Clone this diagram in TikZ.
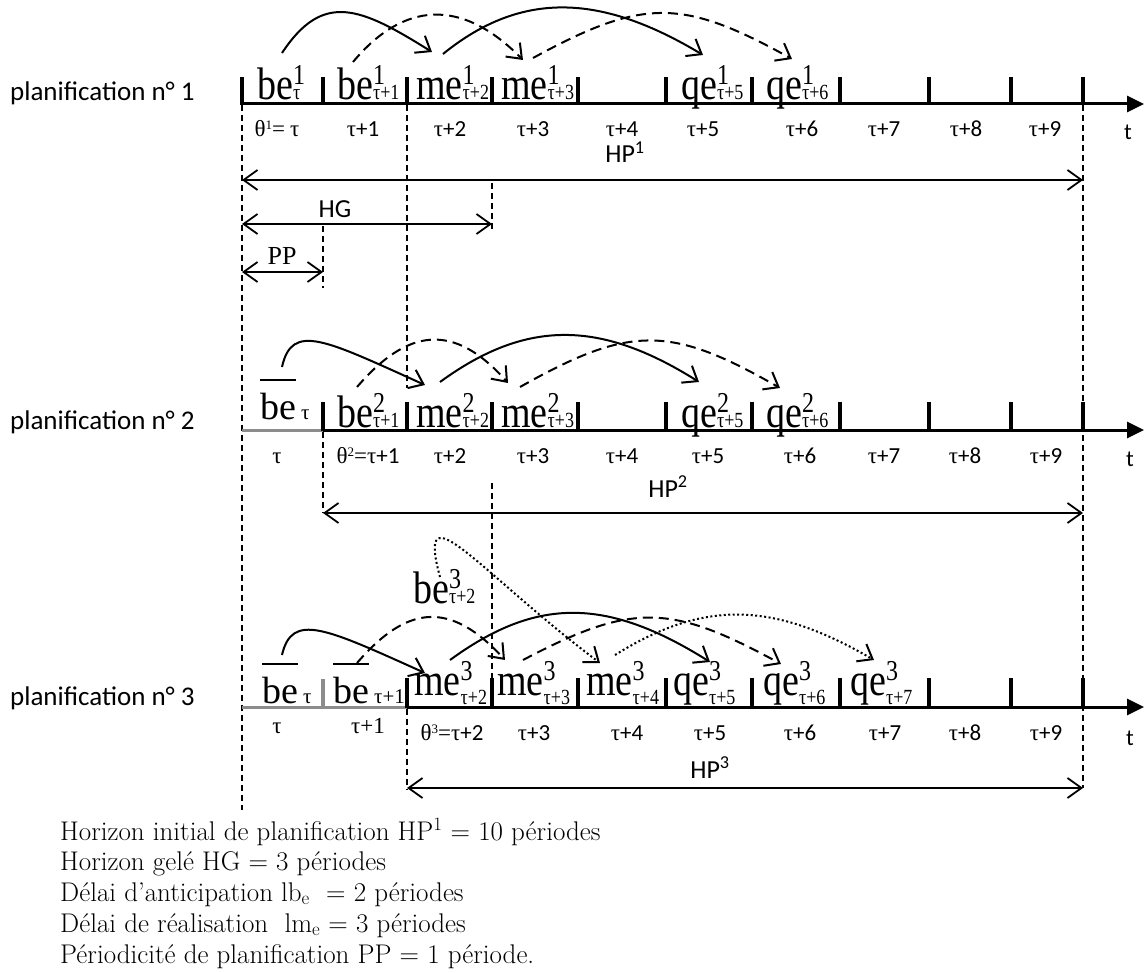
\documentclass[tikz,border=0pt]{standalone}
\usepackage{fontspec}
\usepackage{graphicx}
\newfontfamily\tms{Liberation Serif}
\newfontfamily\calib{Carlito}
\usetikzlibrary{arrows.meta}
\definecolor{gelgrey}{HTML}{8C8C8C}

\newcommand{\ta}{{\tms τ}}
% cell label: base, superscript, subscript (optional drop of the subscript)
\newcommand{\cel}[4][0]{\scalebox{1}[1.2]{#2\rlap{\raisebox{12.5pt}{\fontsize{24}{24}\selectfont #3}}\raisebox{-#1pt}{\fontsize{18}{18}\selectfont #4}}}
% frozen cell: overlined be
\newcommand{\bcel}[1]{\setbox0\hbox{be}\rlap{\raisebox{38pt}{\rule{\wd0}{1.6pt}}}\box0\hspace{5pt}{\fontsize{21}{21}\selectfont #1}}
\newcommand{\thet}[1]{{\tms θ\raisebox{7pt}{\fontsize{13}{13}\selectfont #1}=}}

\begin{document}
\begin{tikzpicture}[x=1pt, y=-1pt,
    every node/.style={inner sep=0pt},
    cell/.style={anchor=base west, font=\tms\fontsize{38}{38}\selectfont},
    per/.style={anchor=base, font=\calib\fontsize{23}{23}\selectfont},
    rowlab/.style={anchor=base west, font=\calib\fontsize{27}{27}\selectfont},
    dimlab/.style={anchor=base, font=\calib\fontsize{26}{26}\selectfont},
    legend/.style={anchor=base west, font=\rmfamily\fontsize{27}{27}\selectfont},
    axis/.style={line width=3pt, -{Triangle[length=17pt,width=16pt]}},
    gel/.style={line width=3pt, gelgrey},
    tick/.style={line width=3.5pt},
    guide/.style={line width=1.2pt, dash pattern=on 6pt off 4pt},
    dim/.style={line width=1.8pt, {Straight Barb[length=14pt,width=20pt]}-{Straight Barb[length=14pt,width=20pt]}},
    solarc/.style={line width=2pt, -{Straight Barb[length=13pt,width=20pt]}},
    dasharc/.style={solarc, dash pattern=on 10pt off 6pt},
    dotarc/.style={solarc, dash pattern=on 2pt off 2.5pt},
  ]
  \useasboundingbox (0,0) rectangle (1147,973);

  % guides
  \draw[guide] (242,105) -- (242,810);
  \draw[guide] (323,226) -- (323,288);
  \draw[guide] (323,432) -- (323,513);
  \draw[guide] (407,105) -- (407,388);
  \draw[guide] (407,709) -- (407,790);
  \draw[guide] (492,183) -- (492,232);
  \draw[guide] (492,483) -- (492,712);
  \draw[guide] (1083,105) -- (1083,788);

  % planification 1
  \node[rowlab] (pl1) at (10,101) {planification n° 1};
  \draw[axis] (242,104) -- (1144,104);
  \foreach \x in {242,323,407,492,578,666,752,840,929,1011,1083}
    \draw[tick] (\x,77) -- (\x,105);
  \node[cell] (b11) at (257,100) {\cel{be}{1}{τ}};
  \node[cell] (b12) at (337,100) {\cel{be}{1}{τ+1}};
  \node[cell] (m13) at (416,100) {\cel{me}{1}{τ+2}};
  \node[cell] (m14) at (501,100) {\cel{me}{1}{τ+3}};
  \node[cell] (q16) at (681,100) {\cel{qe}{1}{τ+5}};
  \node[cell] (q17) at (766,100) {\cel{qe}{1}{τ+6}};
  \node[per] (p10) at (277,137) {\thet{1} \ta};
  \foreach \x/\k in {363/1,450/2,533/3,622/4,703/5,802/6,884/7,966/8,1045/9}
    \node[per] (p1\k) at (\x,137) {\ta+\k};
  \node[per] (t1) at (1128,140) {t};
  \draw[solarc] ([shift={(25,-47)}]b11.base west) .. controls +(41,-62) and +(-72,-45) .. ([shift={(16,-48)}]m13.base west);
  \draw[dasharc] ([shift={(16,-38)}]b12.base west) .. controls +(50,-60) and +(-62,-63) .. ([shift={(22,-40)}]m14.base west);
  \draw[solarc] ([shift={(27,-46)}]m13.base west) .. controls +(80,-65) and +(-100,-60) .. ([shift={(22,-45)}]q16.base west);
  \draw[dasharc] ([shift={(32,-42)}]m14.base west) .. controls +(110,-60) and +(-110,-61) .. ([shift={(26,-41)}]q17.base west);
  \draw[dim] (242,180) -- (1083,180);
  \node[dimlab] (hp1) at (625,163) {HP\textsuperscript{1}};
  \draw[dim] (242,224) -- (492,224);
  \node[dimlab] (hg) at (335,218) {HG};
  \draw[dim] (242,272) -- (323,272);
  \node[dimlab, font=\tms\fontsize{26}{26}\selectfont] (pp) at (282,265) {PP};

  % planification 2
  \node[rowlab] (pl2) at (10,429) {planification n° 2};
  \draw[gel] (242,430) -- (323,430);
  \draw[axis] (323,430) -- (1144,430);
  \foreach \x in {323,407,492,578,666,752,840,929,1011,1083}
    \draw[tick] (\x,402) -- (\x,431);
  \node[cell] (bb21) at (260,419) {\bcel{τ}};
  \node[cell] (b22) at (337,427) {\cel{be}{2}{τ+1}};
  \node[cell] (m23) at (416,427) {\cel{me}{2}{τ+2}};
  \node[cell] (m24) at (501,427) {\cel{me}{2}{τ+3}};
  \node[cell] (q26) at (681,427) {\cel{qe}{2}{τ+5}};
  \node[cell] (q27) at (766,427) {\cel{qe}{2}{τ+6}};
  \node[per, font=\tms\fontsize{23}{23}\selectfont] (p20) at (277,463) {τ};
  \node[per] (p21) at (368,463) {\thet{2}\ta+1};
  \foreach \x/\k in {450/2,533/3,622/4,708/5,800/6,884/7,965/8,1046/9}
    \node[per] (p2\k) at (\x,463) {\ta+\k};
  \node[per] (t2) at (1130,466) {t};
  \draw[solarc] ([shift={(22,-52)}]bb21.base west) .. controls +(10,-45) and +(-100,-45) .. ([shift={(9,-42)}]m23.base west);
  \draw[dasharc] ([shift={(20,-40)}]b22.base west) .. controls +(50,-58) and +(-55,-62) .. ([shift={(7,-44)}]m24.base west);
  \draw[solarc] ([shift={(24,-45)}]m23.base west) .. controls +(85,-62) and +(-100,-63) .. ([shift={(18,-45)}]q26.base west);
  \draw[dasharc] ([shift={(19,-40)}]m24.base west) .. controls +(110,-62) and +(-110,-63) .. ([shift={(14,-39)}]q27.base west);
  \draw[dim] (323,513) -- (1083,513);
  \node[dimlab] (hp2) at (668,497) {HP\textsuperscript{2}};

  % planification 3
  \node[rowlab] (pl3) at (10,705) {planification n° 3};
  \draw[gel] (242,707) -- (407,707);
  \draw[gel, line width=3.5pt] (323,679) -- (323,708);
  \draw[axis] (407,707) -- (1144,707);
  \foreach \x in {407,492,578,666,752,840,929,1011,1083}
    \draw[tick] (\x,678) -- (\x,708);
  \node[cell] (bb31) at (262,703) {\bcel{τ}};
  \node[cell] (bb32) at (333,703) {\bcel{τ+1}};
  \node[cell] (m33) at (414,695) {\cel[8]{me}{3}{τ+2}};
  \node[cell] (m34) at (497,695) {\cel[8]{me}{3}{τ+3}};
  \node[cell] (m35) at (586,695) {\cel[8]{me}{3}{τ+4}};
  \node[cell] (q36) at (673,695) {\cel[8]{qe}{3}{τ+5}};
  \node[cell] (q37) at (763,695) {\cel[8]{qe}{3}{τ+6}};
  \node[cell] (q38) at (850,695) {\cel[8]{qe}{3}{τ+7}};
  \node[cell] (bf) at (413,603) {\cel{be}{3}{τ+2}};
  \node[per, font=\tms\fontsize{23}{23}\selectfont] (p30) at (277,733) {τ};
  \node[per, font=\tms\fontsize{23}{23}\selectfont] (p31) at (368,733) {τ+1};
  \node[per] (p32) at (452,740) {\thet{3}\ta+2};
  \foreach \x/\k in {534/3,627/4,710/5,800/6,885/7,965/8,1046/9}
    \node[per] (p3\k) at (\x,740) {\ta+\k};
  \node[per] (t3) at (1130,745) {t};
  \draw[solarc] ([shift={(20,-48)}]bb31.base west) .. controls +(10,-43) and +(-100,-45) .. ([shift={(11,-22)}]m33.base west);
  \draw[dasharc] ([shift={(24,-40)}]bb32.base west) .. controls +(50,-58) and +(-55,-60) .. ([shift={(8,-35)}]m34.base west);
  \draw[solarc] ([shift={(36,-35)}]m33.base west) .. controls +(85,-62) and +(-105,-66) .. ([shift={(37,-33)}]q36.base west);
  \draw[dasharc] ([shift={(26,-35)}]m34.base west) .. controls +(110,-58) and +(-110,-60) .. ([shift={(18,-31)}]q37.base west);
  \draw[dotarc] ([shift={(27,-26)}]bf.base west) .. controls +(-25,-92) and +(-120,-90) .. ([shift={(14,-32)}]m35.base west);
  \draw[dotarc] ([shift={(29,-40)}]m35.base west) .. controls +(90,-56) and +(-100,-58) .. ([shift={(24,-35)}]q38.base west);
  \draw[dim] (407,788) -- (1083,788);
  \node[dimlab] (hp3) at (710,778) {HP\textsuperscript{3}};

  % legend
  \node[legend] (leg1) at (60,840) {Horizon initial de planification HP\textsuperscript{1} = 10 périodes};
  \node[legend] (leg2) at (60,870) {Horizon gelé HG = 3 périodes};
  \node[legend] (leg3) at (60,901) {Délai d’anticipation lb\textsubscript{e}\ \ = 2 périodes};
  \node[legend] (leg4) at (60,932) {Délai de réalisation\ \ lm\textsubscript{e} = 3 périodes};
  \node[legend] (leg5) at (60,963) {Périodicité de planification PP = 1 période.};
\end{tikzpicture}
\end{document}
